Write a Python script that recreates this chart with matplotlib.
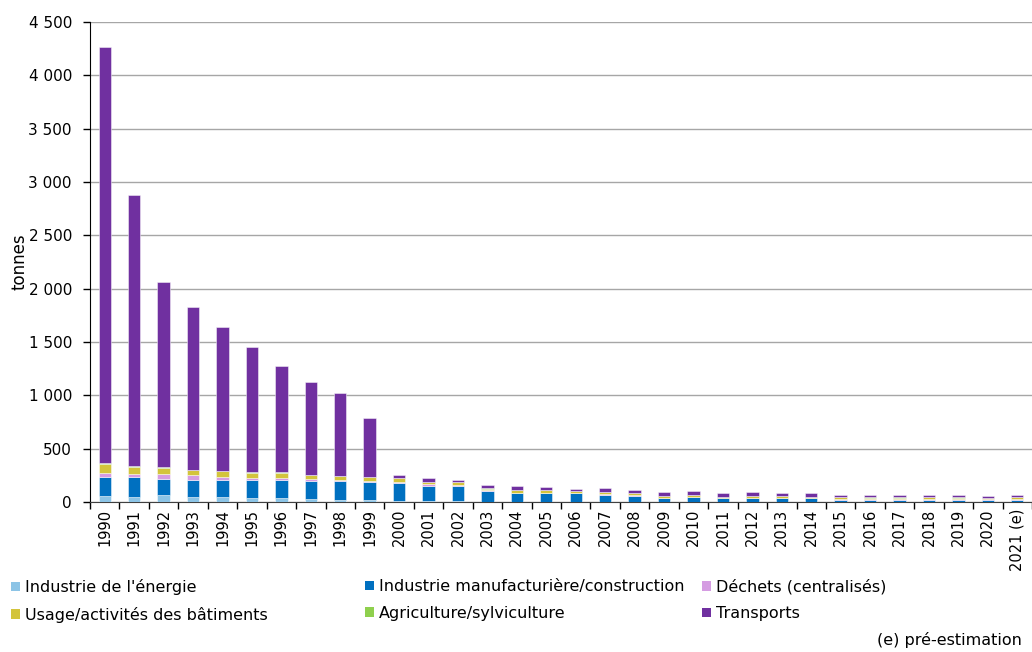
import matplotlib
matplotlib.use("Agg")
import matplotlib.pyplot as plt
import numpy as np
from matplotlib.patches import Patch
from matplotlib.ticker import FuncFormatter, FixedLocator

years = [str(y) for y in range(1990, 2021)] + ["2021 (e)"]

energie = [55, 50, 63, 50, 50, 38, 38, 25, 20, 15, 12, 12, 12, 3, 3, 3,
           3, 3, 3, 3, 3, 2, 2, 2, 2, 2, 2, 2, 2, 2, 2, 2]
manuf = [179, 182, 153, 156, 156, 168, 168, 169, 174, 169, 163, 138, 138, 100, 78, 78,
         78, 66, 53, 34, 41, 31, 31, 31, 31, 20, 20, 20, 20, 20, 20, 20]
dechets = [36, 33, 43, 44, 31, 22, 22, 19, 12, 10, 12, 16, 6, 5, 6, 6,
           4, 9, 13, 4, 4, 5, 8, 5, 5, 10, 5, 10, 6, 8, 4, 6]
batiments = [83, 66, 60, 50, 51, 47, 47, 37, 35, 37, 35, 21, 31, 17, 25, 25,
             15, 12, 12, 12, 14, 11, 11, 17, 12, 15, 15, 10, 16, 12, 10, 15]
agriculture = [8, 5, 5, 3, 3, 2, 2, 2, 2, 2, 2, 2, 2, 2, 2, 2,
               2, 2, 2, 2, 2, 1, 1, 1, 1, 1, 1, 1, 1, 1, 1, 1]
transports = [3904, 2544, 1741, 1527, 1354, 1178, 1001, 875, 779, 555, 26, 36, 20, 35, 36, 27,
              23, 36, 29, 39, 39, 31, 41, 25, 33, 21, 26, 26, 24, 26, 19, 25]

series = [
    ("Industrie de l'énergie", energie, "#8CC4E6"),
    ("Industrie manufacturière/construction", manuf, "#0070C0"),
    ("Déchets (centralisés)", dechets, "#D59CE2"),
    ("Usage/activités des bâtiments", batiments, "#D3C43C"),
    ("Agriculture/sylviculture", agriculture, "#8FD04E"),
    ("Transports", transports, "#7030A0"),
]

plt.rcParams['font.family'] = ['DejaVu Sans']

fig = plt.figure(figsize=(10.32, 6.52), dpi=100)
ax = fig.add_axes([90/1032, 150/652, (1032-90)/1032, (502-22)/652])

x = np.arange(len(years))
bottom = np.zeros(len(years))
handles = {}
for name, vals, col in series:
    v = np.array(vals, dtype=float)
    ax.bar(x, v, width=0.42, bottom=bottom, color=col, edgecolor=(1, 1, 1, 0.55),
           linewidth=0.6, zorder=3)
    bottom += v
    handles[name] = Patch(facecolor=col, edgecolor='none')

ax.set_xlim(-0.5, len(years) - 0.5)
ax.set_ylim(0, 4500)
ax.set_yticks(np.arange(0, 4501, 500))
ax.yaxis.set_major_formatter(FuncFormatter(lambda v, p: f"{int(v):,}".replace(",", " ")))
ax.grid(axis='y', color='#A6A6A6', linewidth=1.0, zorder=0)
ax.set_axisbelow(True)

ax.set_xticks(x)
ax.set_xticklabels(years, rotation=90, fontsize=10.5)
ax.xaxis.set_minor_locator(FixedLocator(np.arange(-0.5, len(years), 1.0)))
ax.tick_params(axis='x', which='major', length=0, pad=5)
ax.tick_params(axis='x', which='minor', length=5, width=1, color='black', direction='out')
ax.tick_params(axis='y', length=5, width=1, color='black', direction='out', labelsize=11, pad=8)

for s in ['top', 'right']:
    ax.spines[s].set_visible(False)
ax.spines['left'].set_color('black')
ax.spines['bottom'].set_color('#404040')

ax.set_ylabel("tonnes", fontsize=12, labelpad=0)

cols = [
    (["Industrie de l'énergie", "Usage/activités des bâtiments"], 8),
    (["Industrie manufacturière/construction", "Agriculture/sylviculture"], 362),
    (["Déchets (centralisés)", "Transports"], 699),
]
for names, xpx in cols:
    fig.legend([handles[n] for n in names], names, loc='upper left',
               bbox_to_anchor=(xpx/1032, 1 - 576/652), frameon=False,
               fontsize=11.5, handlelength=0.55, handleheight=0.55,
               handletextpad=0.3, labelspacing=0.72, borderaxespad=0, borderpad=0.2)

fig.text(1022/1032, 1 - 640/652, "(e) pré-estimation", ha='right', va='center', fontsize=11.5)

fig.savefig("out.png", dpi=100)
